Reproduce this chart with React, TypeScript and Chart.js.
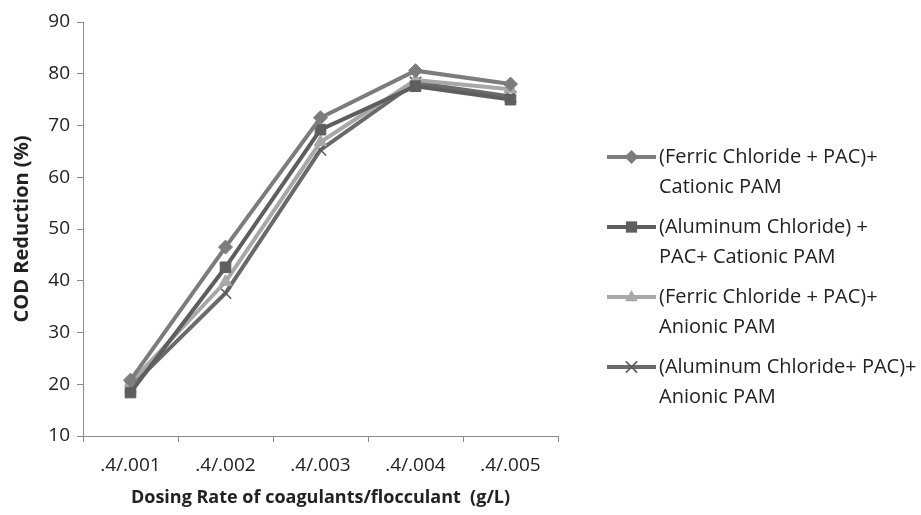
import React, { useEffect, useRef } from "react";
import { Chart, registerables } from "chart.js";

Chart.register(...registerables);

const categories = [".4/.001", ".4/.002", ".4/.003", ".4/.004", ".4/.005"];
const ferricCationic = [20.8, 46.5, 71.5, 80.6, 78.0];
const aluminumCationic = [18.4, 42.6, 69.2, 77.6, 75.0];
const ferricAnionic = [20.3, 39.8, 66.8, 78.8, 77.0];
const aluminumAnionic = [19.5, 37.6, 65.3, 78.3, 75.6];
const seriesLabels = [
  ["(Ferric Chloride + PAC)+", "Cationic PAM"],
  ["(Aluminum Chloride) +", "PAC+ Cationic PAM"],
  ["(Ferric Chloride + PAC)+", "Anionic PAM"],
  ["(Aluminum Chloride+ PAC)+", "Anionic PAM"],
];
const yTicks = [10, 20, 30, 40, 50, 60, 70, 80, 90];

const FONT = "'Open Sans', 'Noto Sans', sans-serif";
const lineColors = ["#7c7c7c", "#5e5e5e", "#a8a8a8", "#6a6a6a"];
const markerColors = ["#7c7c7c", "#5e5e5e", "#a8a8a8", "#5a5a5a"];
const markerStyles: any[] = ["rectRot", "rect", "triangle", "crossRot"];
const markerRadius = [7, 7.5, 7, 8];

function drawMarker(ctx: CanvasRenderingContext2D, i: number, x: number, y: number, r: number) {
  ctx.fillStyle = markerColors[i];
  ctx.strokeStyle = markerColors[i];
  ctx.lineWidth = 1.5;
  ctx.beginPath();
  const style = markerStyles[i];
  if (style === "rectRot") {
    ctx.moveTo(x, y - r);
    ctx.lineTo(x + r, y);
    ctx.lineTo(x, y + r);
    ctx.lineTo(x - r, y);
    ctx.closePath();
    ctx.fill();
  } else if (style === "rect") {
    const h = r * 0.75;
    ctx.rect(x - h, y - h, 2 * h, 2 * h);
    ctx.fill();
  } else if (style === "triangle") {
    ctx.moveTo(x, y - r);
    ctx.lineTo(x + r * 0.9, y + r * 0.6);
    ctx.lineTo(x - r * 0.9, y + r * 0.6);
    ctx.closePath();
    ctx.fill();
  } else {
    const h = r * 0.7;
    ctx.moveTo(x - h, y - h);
    ctx.lineTo(x + h, y + h);
    ctx.moveTo(x + h, y - h);
    ctx.lineTo(x - h, y + h);
    ctx.stroke();
  }
}

const legendPlugin = {
  id: "sideLegend",
  afterDraw(chart: any) {
    const ctx = chart.ctx as CanvasRenderingContext2D;
    ctx.save();
    const x0 = 607;
    const x1 = 656;
    const startY = 157;
    const step = 70;
    chart.data.datasets.forEach((_ds: any, i: number) => {
      const y = startY + i * step;
      ctx.strokeStyle = lineColors[i];
      ctx.lineWidth = 4;
      ctx.beginPath();
      ctx.moveTo(x0, y);
      ctx.lineTo(x1, y);
      ctx.stroke();
      drawMarker(ctx, i, (x0 + x1) / 2, y, markerRadius[i]);
      ctx.fillStyle = "#222";
      ctx.font = `20px ${FONT}`;
      ctx.textBaseline = "middle";
      ctx.textAlign = "left";
      const lines = seriesLabels[i];
      lines.forEach((t, j) => ctx.fillText(t, 659, y + j * 30));
    });
    ctx.restore();
  },
};

export default function App() {
  const ref = useRef<HTMLCanvasElement | null>(null);
  useEffect(() => {
    if (!ref.current) return;
    const all = [ferricCationic, aluminumCationic, ferricAnionic, aluminumAnionic];
    const chart = new Chart(ref.current, {
      type: "line",
      data: {
        labels: categories,
        datasets: all.map((d, i) => ({
          label: seriesLabels[i].join(" "),
          data: d,
          borderColor: lineColors[i],
          backgroundColor: markerColors[i],
          pointBackgroundColor: markerColors[i],
          pointBorderColor: markerColors[i],
          borderWidth: 4,
          pointStyle: markerStyles[i],
          pointRadius: markerRadius[i],
          pointBorderWidth: i === 3 ? 1.5 : 1,
          tension: 0,
        })),
      },
      options: {
        responsive: false,
        animation: false,
        layout: { padding: { top: 22, right: 363, left: 0, bottom: 0 } },
        plugins: {
          legend: { display: false },
          tooltip: { enabled: false },
        },
        scales: {
          x: {
            offset: true,
            grid: {
              offset: true,
              drawOnChartArea: false,
              drawTicks: true,
              tickLength: 6,
              color: "#8a8a8a",
            },
            border: { color: "#8a8a8a", width: 1 },
            ticks: {
              color: "#222",
              font: { family: FONT, size: 19 },
              padding: 12,
              maxRotation: 0,
            },
            title: {
              display: true,
              text: "Dosing Rate of coagulants/flocculant  (g/L)",
              color: "#222",
              font: { family: FONT, size: 18, weight: "bold" },
              padding: { top: 8, bottom: 6 },
            },
            afterFit(scale: any) {
              scale.height = 79;
            },
          },
          y: {
            min: 10,
            max: 90,
            afterBuildTicks(scale: any) {
              scale.ticks = yTicks.map((v) => ({ value: v }));
            },
            grid: {
              drawOnChartArea: false,
              drawTicks: true,
              tickLength: 6,
              color: "#8a8a8a",
            },
            border: { color: "#8a8a8a", width: 1 },
            ticks: {
              color: "#222",
              font: { family: FONT, size: 19 },
              padding: 7,
            },
            title: {
              display: true,
              text: "COD Reduction (%)",
              color: "#222",
              font: { family: FONT, size: 20, weight: "bold" },
              padding: { top: 10, bottom: 0 },
            },
            afterFit(scale: any) {
              scale.width = 83;
            },
          },
        },
      },
      plugins: [legendPlugin],
    });
    return () => chart.destroy();
  }, []);
  return (
    <div style={{ position: "fixed", left: 0, top: 0, width: 921, height: 515, background: "#fff" }}>
      <canvas ref={ref} width={921} height={515} />
    </div>
  );
}
